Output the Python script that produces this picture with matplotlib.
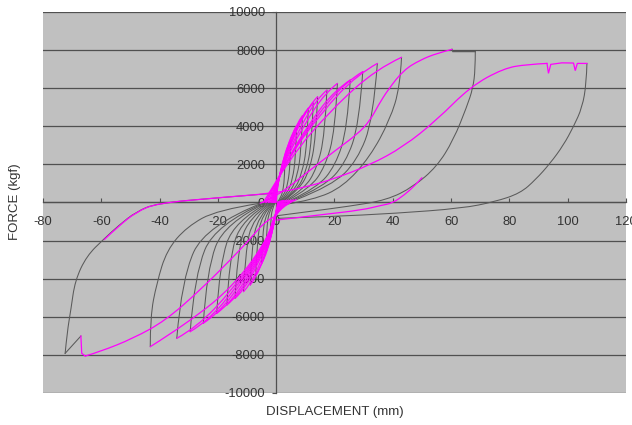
import matplotlib
matplotlib.use('Agg')
import matplotlib.pyplot as plt
from matplotlib.path import Path
from matplotlib.patches import PathPatch

plt.rcParams['font.family'] = ['Liberation Sans', 'DejaVu Sans']

# ---------------- data (displacement mm, force kgf) ----------------
x_ticks = [-80, -60, -40, -20, 0, 20, 40, 60, 80, 100, 120]
y_ticks = [-10000, -8000, -6000, -4000, -2000, 0, 2000, 4000, 6000, 8000, 10000]

# loading branches towards positive peaks (magenta)
load_pos = [
    [(0, 0), (0.3, 690), (1.35, 1495), (2.4, 2115), (3, 2300)],
    [(-0.3, 0), (0.5, 990), (2.25, 2145), (4.0, 3035), (5, 3300)],
    [(-0.5, 0), (0.7, 1200), (3.15, 2600), (5.6, 3680), (7, 4000)],
    [(-0.65, 0), (0.9, 1365), (4.05, 2960), (7.2, 4185), (9, 4550)],
    [(-0.9, 0), (1.1, 1485), (4.95, 3220), (8.8, 4555), (11, 4950)],
    [(-1.2, 0), (1.27, 1565), (5.7, 3395), (10.15, 4800), (12.7, 5220)],
    [(-1.5, 0), (1.42, 1665), (6.4, 3610), (11.35, 5105), (14.2, 5550)],
    [(-1.8, 0), (1.74, 1770), (7.85, 3835), (13.9, 5430), (17.4, 5900)],
    [(-2.2, 0), (2.1, 1875), (9.45, 4060), (16.8, 5750), (21, 6250)],
    [(-2.7, 0), (2.54, 1930), (11.4, 4180), (20.3, 5915), (25.4, 6430)],
    [(-3.3, 0), (2.97, 2060), (13.4, 4465), (23.8, 6320), (29.7, 6870)],
    [(-3.8, 0), (3.47, 2190), (15.6, 4745), (27.8, 6715), (34.7, 7300)],
    [(-4.4, 0), (4.3, 2290), (19.4, 4950), (34.4, 7010), (43, 7620)],
    [(-5.5, -40), (0, 300), (10, 1500), (20, 2700), (28, 3600), (32.2, 4300),
     (35, 5100), (38.5, 5950), (43.7, 6950), (49.4, 7480), (55.1, 7830), (60.3, 8040)],
]

# unloading branches from positive peaks (gray)
unload_pos = [
    [(3, 2300), (2.9, 1380), (2.4, 690), (1.65, 280), (0.6, 50)],
    [(5, 3300), (4.8, 1980), (4.0, 990), (2.75, 400), (1.0, 70)],
    [(7, 4000), (6.7, 2400), (5.6, 1200), (3.85, 480), (1.4, 80)],
    [(9, 4550), (8.6, 2730), (7.2, 1370), (4.95, 550), (1.8, 90)],
    [(11, 4950), (10.6, 2970), (8.8, 1490), (6.05, 590), (2.2, 100)],
    [(12.7, 5220), (12.2, 3130), (10.2, 1570), (7.0, 630), (2.5, 100)],
    [(14.2, 5550), (13.6, 3330), (11.4, 1670), (7.8, 670), (2.8, 110)],
    [(17.4, 5900), (16.7, 3540), (13.9, 1770), (9.6, 710), (3.5, 120)],
    [(21, 6250), (20.2, 3750), (16.8, 1880), (11.6, 750), (4.2, 130)],
    [(25.4, 6430), (24.4, 3860), (20.3, 1930), (14.0, 770), (5.1, 130)],
    [(29.7, 6870), (28.5, 4120), (23.8, 2060), (16.3, 820), (5.9, 140)],
    [(34.7, 7300), (33.3, 4380), (27.8, 2190), (19.1, 880), (6.9, 150)],
    [(43, 7620), (42.5, 6080), (39, 4330), (32.2, 2400), (23, 830), (12.7, 130), (3, -100)],
    [(68.3, 7920), (68.3, 7000), (67.5, 6000), (65.4, 5030), (60.8, 3280), (55.1, 1880),
     (47.1, 830), (38, 130), (25, -200), (10, -500), (0, -700)],
]

# loading branches towards negative peaks (magenta)
load_neg = [
    [(0.6, 50), (-0.2, -540), (-0.9, -1170), (-1.6, -1655), (-2, -1800)],
    [(1.0, 70), (-0.35, -780), (-1.6, -1690), (-2.8, -2390), (-3.5, -2600)],
    [(1.4, 80), (0, -300), (-0.5, -960), (-2.25, -2080), (-4.0, -2945), (-5, -3200)],
    [(1.8, 90), (0, -300), (-0.7, -1140), (-3.15, -2470), (-5.6, -3495), (-7, -3800)],
    [(2.2, 100), (0, -300), (-0.9, -1300), (-4.0, -2815), (-7.1, -3985), (-8.9, -4330)],
    [(2.5, 100), (0, -300), (-1.1, -1405), (-5.05, -3040), (-8.95, -4305), (-11.2, -4680)],
    [(2.8, 110), (0, -300), (-1.4, -1510), (-6.35, -3270), (-11.3, -4630), (-14.1, -5030)],
    [(3.5, 120), (0, -300), (-1.7, -1615), (-7.6, -3495), (-13.5, -4950), (-16.9, -5380)],
    [(4.2, 130), (0, -300), (-2.0, -1745), (-9.2, -3785), (-16.3, -5355), (-20.4, -5820)],
    [(5.1, 130), (0, -300), (-2.5, -1900), (-11.25, -4120), (-20.0, -5835), (-25, -6340)],
    [(5.9, 140), (0, -300), (-2.95, -2035), (-13.3, -4405), (-23.6, -6240), (-29.5, -6780)],
    [(6.9, 150), (0, -300), (-3.4, -2140), (-15.3, -4635), (-27.3, -6560), (-34.1, -7130)],
    [(3, -100), (0, -400), (-2.5, -1800), (-14, -4300), (-30, -6300), (-43.2, -7570)],
    [(0, -700), (-3.2, -900), (-8.9, -1900), (-14.6, -2840), (-26, -4590),
     (-38, -6200), (-49, -7130), (-60.4, -7830), (-65.5, -8060)],
]

# unloading branches from negative peaks (gray)
unload_neg = [
    [(-2, -1800), (-1.9, -1010), (-1.4, -310), (-0.3, 0)],
    [(-3.5, -2600), (-3.3, -1460), (-2.5, -440), (-0.5, 0)],
    [(-5, -3200), (-4.75, -1790), (-3.55, -540), (-0.65, 0)],
    [(-7, -3800), (-6.65, -2130), (-5.0, -650), (-0.9, 0)],
    [(-8.9, -4330), (-8.45, -2420), (-6.3, -740), (-1.2, 0)],
    [(-11.2, -4680), (-10.6, -2620), (-8.0, -800), (-1.5, 0)],
    [(-14.1, -5030), (-13.4, -2820), (-10.0, -860), (-1.8, 0)],
    [(-16.9, -5380), (-16.1, -3010), (-12.0, -910), (-2.2, 0)],
    [(-20.4, -5820), (-19.4, -3260), (-14.5, -990), (-2.7, 0)],
    [(-25, -6340), (-23.8, -3550), (-17.8, -1080), (-3.3, 0)],
    [(-29.5, -6780), (-28, -3800), (-20.9, -1150), (-3.8, 0)],
    [(-34.1, -7130), (-32.4, -3990), (-24.2, -1210), (-4.4, 0)],
    [(-43.2, -7570), (-43.2, -6000), (-41, -4240), (-37.5, -2490), (-30.6, -1270),
     (-20.3, -394), (-5.5, -40)],
    [(-72.4, -7920), (-71.7, -6800), (-70.4, -5600), (-69, -4100), (-65, -2800),
     (-59, -1900), (-54, -1200), (-48, -480), (-41, -42), (-20, 250), (-0.9, 483)],
]

# sharp segments (drawn as straight polylines)
hold_top = [(60.3, 8040), (60.6, 7920), (68.3, 7920)]            # gray
drop_neg = [(-65.5, -8060), (-66.7, -7920), (-67, -7010)]        # magenta
slip_neg = [(-67, -7010), (-72.4, -7920)]                        # gray

# last large excursion
load_last = [(-59, -1950), (-54, -1230), (-48, -500), (-41, -42), (-20, 250),
             (-0.9, 483), (10, 800), (20, 1250), (32.2, 1970), (43.7, 2930),
             (55.1, 4330), (66.6, 6080), (78, 7040), (86, 7250), (92.9, 7300)]
load_last_top = [(92.9, 7300), (93.4, 6780), (94.2, 7250), (98, 7330), (102, 7320),
                 (102.6, 6920), (103.3, 7300), (106.6, 7300)]
unload_last = [(106.6, 7300), (106.4, 6250), (105, 5000), (102, 3980), (98.5, 3000),
               (94, 2058), (89, 1200), (83.7, 483), (75, 40), (63.8, -305),
               (41, -570), (18, -745), (0.9, -830)]
reload_final = [(0.3, -920), (15, -650), (29.5, -394), (36, -150), (39.8, -40),
                (44, 400), (47.8, 920), (50, 1300)]

MAGENTA = '#ff00ff'
GRAY = '#5a5a5a'


def smooth(ax, pts, color, lw, z):
    if len(pts) == 2:
        verts, codes = list(pts), [Path.MOVETO, Path.LINETO]
    else:
        verts, codes = [pts[0]], [Path.MOVETO]
        for i in range(1, len(pts) - 2):
            mid = ((pts[i][0] + pts[i + 1][0]) / 2, (pts[i][1] + pts[i + 1][1]) / 2)
            verts += [pts[i], mid]
            codes += [Path.CURVE3, Path.CURVE3]
        verts += [pts[-2], pts[-1]]
        codes += [Path.CURVE3, Path.CURVE3]
    ax.add_patch(PathPatch(Path(verts, codes), fill=False, edgecolor=color,
                           lw=lw, zorder=z, transform=ax.transData,
                           joinstyle='round', capstyle='round'))


def poly(ax, pts, color, lw, z):
    ax.plot([p[0] for p in pts], [p[1] for p in pts], color=color, lw=lw,
            zorder=z, solid_joinstyle='miter')


fig = plt.figure(figsize=(6.32, 4.25), dpi=100)
ax = fig.add_axes([0.068, 0.0753, 0.9225, 0.8965])
ax.set_facecolor('#c0c0c0')
ax.set_xlim(-80, 120)
ax.set_ylim(-10000, 10000)

for y in y_ticks:
    ax.axhline(y, color='#505050', lw=0.9, zorder=1)

ax.spines['left'].set_position(('data', 0))
ax.spines['bottom'].set_position(('data', 0))
ax.spines['top'].set_visible(False)
ax.spines['right'].set_visible(False)
for s in ('left', 'bottom'):
    ax.spines[s].set_color('#505050')
    ax.spines[s].set_linewidth(0.9)
    ax.spines[s].set_zorder(1.5)

ax.set_xticks(x_ticks)
ax.set_xticklabels([str(v) for v in x_ticks])
ax.set_yticks(y_ticks)
ax.set_yticklabels([str(v) for v in y_ticks])
ax.tick_params(axis='x', direction='in', length=3, pad=10, labelsize=9.3,
               colors='#505050', labelcolor='#333333')
ax.tick_params(axis='y', direction='out', length=3, pad=5, labelsize=9.3,
               colors='#505050', labelcolor='#333333')

# gray (unloading) branches
for br in unload_pos + unload_neg + [unload_last]:
    smooth(ax, br, GRAY, 0.75, 3)
poly(ax, hold_top, GRAY, 0.9, 3)
poly(ax, slip_neg, GRAY, 0.75, 3)

# magenta (loading) branches
for br in load_pos + load_neg + [load_last, reload_final]:
    smooth(ax, br, MAGENTA, 0.9, 4)
poly(ax, load_last_top, MAGENTA, 0.9, 4)
poly(ax, drop_neg, MAGENTA, 0.9, 4)

fig.text(0.530, 0.031, 'DISPLACEMENT (mm)', ha='center', va='center',
         fontsize=9.5, color='#333333')
fig.text(0.024, 0.525, 'FORCE (kgf)', ha='center', va='center', rotation=90,
         fontsize=9.5, color='#333333')

fig.savefig('out.png', dpi=100, facecolor='white')
